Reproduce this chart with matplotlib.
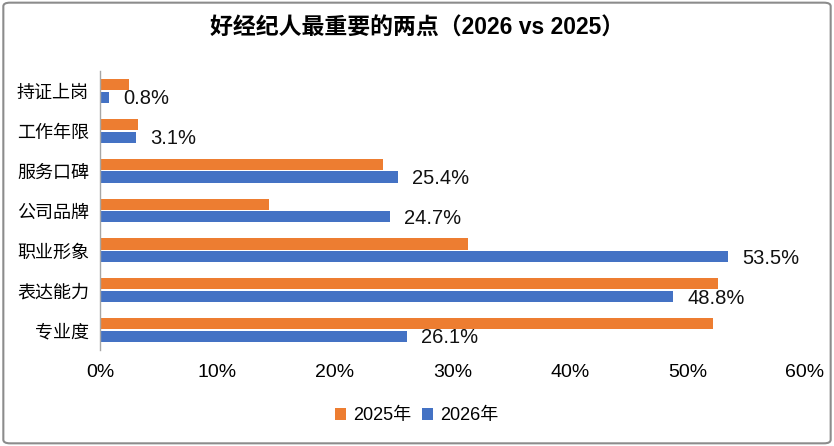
import numpy as np
import matplotlib.pyplot as plt
from matplotlib.patches import FancyBboxPatch

plt.rcParams['font.family'] = ['Liberation Sans', 'Noto Sans CJK SC', 'DejaVu Sans']

categories = ['持证上岗', '工作年限', '服务口碑', '公司品牌', '职业形象', '表达能力', '专业度']
values_2025 = [2.5, 3.2, 24.1, 14.4, 31.3, 52.6, 52.2]
values_2026 = [0.8, 3.1, 25.4, 24.7, 53.5, 48.8, 26.1]
xticks = [0, 10, 20, 30, 40, 50, 60]

orange = '#ED7D31'
blue = '#4472C4'

fig = plt.figure(figsize=(8.34, 4.46), dpi=100)
ax = fig.add_axes([0.12, 0.215, 0.845, 0.626])

y = np.arange(len(categories))
h = 0.28
off = 0.16
ax.barh(y - off, values_2025, height=h, color=orange, label='2025年')
ax.barh(y + off, values_2026, height=h, color=blue, label='2026年')

# labels only for 2026
for yi, v in zip(y, values_2026):
	ax.annotate(f'{v:.1f}%', (v, yi + off), xytext=(10, -1), textcoords='offset points',
				va='center', ha='left', fontsize=14.5, color='#111111')

ax.set_ylim(len(categories) - 0.5, -0.5)
ax.set_xlim(0, 60)
ax.set_xticks(xticks)
ax.set_xticklabels([f'{t}%' for t in xticks], fontsize=14)
ax.set_yticks(y)
ax.set_yticklabels(categories, fontsize=13, family=['Noto Sans CJK SC'])
ax.tick_params(axis='both', length=0)
ax.tick_params(axis='y', pad=8)
ax.tick_params(axis='x', pad=10)
for s in ['top', 'right', 'bottom']:
	ax.spines[s].set_visible(False)
ax.spines['left'].set_color('#A6A6A6')
ax.spines['left'].set_linewidth(1.0)

fig.suptitle('好经纪人最重要的两点（2026 vs 2025）', y=0.962, fontsize=16.5, fontweight='bold',
			 family=['Liberation Sans', 'Noto Sans CJK SC'])

fig.legend(loc='center', bbox_to_anchor=(0.5, 0.068), ncol=2, frameon=False, fontsize=13,
		   handlelength=0.6, handleheight=0.6, handletextpad=0.4, columnspacing=0.6)

# outer frame
frame = FancyBboxPatch((0.004, 0.006), 0.992, 0.988, boxstyle='round,pad=0,rounding_size=0.008',
					   transform=fig.transFigure, fill=False, edgecolor='#8C8C8C', linewidth=1.5)
fig.patches.append(frame)

fig.savefig('out.png', dpi=100)
